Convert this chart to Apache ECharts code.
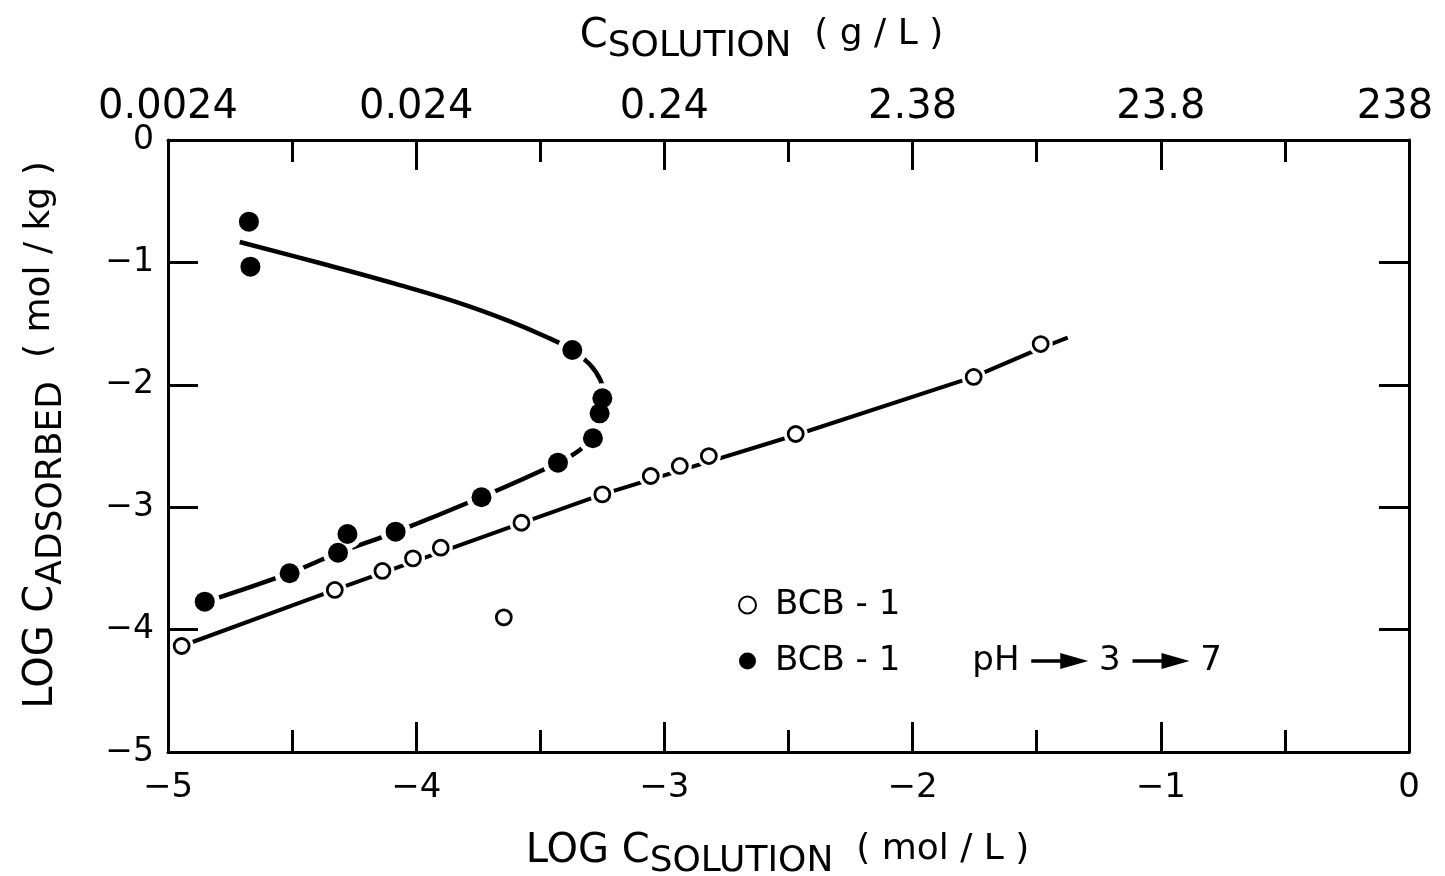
<!DOCTYPE html>
<html>
<head>
<meta charset="utf-8">
<script src="https://cdn.jsdelivr.net/npm/echarts@6/dist/echarts.min.js"></script>
<style>
  html, body { margin: 0; padding: 0; background: #ffffff; }
  #chart { width: 1445px; height: 876px; }
</style>
</head>
<body>
<div id="chart"></div>
<script>
const FONT = 'DejaVu Sans';

// Upper axis: the lower log(mol/L) ticks expressed in g/L
const topTickLabels = ['0.0024', '0.024', '0.24', '2.38', '23.8', '238'];

// BCB-1 (open circles): log C_solution (mol/L), log C_adsorbed (mol/kg)
const bcbX = [-4.945, -4.328, -4.136, -4.013, -3.901, -3.647, -3.576, -3.250, -3.055, -2.938, -2.821, -2.471, -1.754, -1.484];
const bcbY = [-4.134, -3.676, -3.521, -3.418, -3.331, -3.900, -3.127, -2.895, -2.745, -2.663, -2.582, -2.402, -1.936, -1.667];

// BCB-1 with pH stepped 3 -> 7 (filled circles)
const phX = [-4.674, -4.668, -3.371, -3.250, -3.261, -3.288, -3.429, -3.737, -4.083, -4.277, -4.315, -4.510, -4.852];
const phY = [-0.667, -1.035, -1.716, -2.110, -2.233, -2.437, -2.636, -2.919, -3.200, -3.219, -3.372, -3.540, -3.772];

// Drawn trend line through the BCB-1 points
const bcbLineX = [-4.945, -4.328, -3.576, -3.250, -2.471, -1.754, -1.484, -1.375];
const bcbLineY = [-4.134, -3.676, -3.130, -2.895, -2.410, -1.935, -1.700, -1.615];

// Drawn curve through the pH-stepped points (upper branch, turn, lower branch)
const phCurveX = [-4.711, -4.389, -4.066, -3.825, -3.625, -3.484, -3.371, -3.302, -3.258, -3.246, -3.258, -3.285, -3.341, -3.430, -3.736, -4.083, -4.316, -4.510, -4.852];
const phCurveY = [-0.833, -1.005, -1.185, -1.332, -1.479, -1.601, -1.716, -1.830, -1.961, -2.083, -2.230, -2.410, -2.533, -2.639, -2.917, -3.203, -3.374, -3.538, -3.775];

const NAME_OPEN = 'BCB-1';
const NAME_FILLED = 'BCB-1 pH 3 7';

const zip = (xs, ys) => xs.map((x, i) => [x, ys[i]]);
const minus = v => String(v).replace('-', '\u2212');

// Solid arrow (thin shaft, filled head) used between the pH values in the legend
const arrowSvg =
  '<svg xmlns="http://www.w3.org/2000/svg" width="58" height="20" viewBox="0 0 58 20">' +
  '<line x1="1" y1="10" x2="36" y2="10" stroke="#000" stroke-width="3.5"/>' +
  '<polygon points="30,2 58,10 30,18" fill="#000"/></svg>';
const arrowUri = 'data:image/svg+xml;charset=utf-8,' + encodeURIComponent(arrowSvg);

const axisLineStyle = { color: '#000', width: 3 };
const tickStyle = { color: '#000', width: 3 };

// main letters, subscript (dropped) and the unit in parentheses
const nameRich = {
  a: { fontFamily: FONT, fontSize: 40, color: '#000', lineHeight: 40, verticalAlign: 'top' },
  s: { fontFamily: FONT, fontSize: 36, color: '#000', lineHeight: 36, padding: [12, 0, 0, 0], verticalAlign: 'top' },
  p: { fontFamily: FONT, fontSize: 36, color: '#000', lineHeight: 36, verticalAlign: 'top' }
};

const chart = echarts.init(document.getElementById('chart'), null, { renderer: 'canvas' });

chart.setOption({
  animation: false,
  backgroundColor: '#ffffff',
  grid: { left: 168, right: 36, top: 140, bottom: 124, containLabel: false, outerBoundsMode: 'none' },
  legend: {
    orient: 'vertical',
    left: 733,
    top: 580,
    itemGap: 16,
    itemWidth: 17,
    itemHeight: 17,
    data: [NAME_OPEN, NAME_FILLED],
    formatter: name => name === NAME_OPEN
      ? 'BCB - 1'
      : 'BCB - 1{g| }pH {ar| } 3 {ar| } 7',
    textStyle: {
      fontFamily: FONT, fontSize: 34, color: '#000', lineHeight: 40,
      padding: [0, 0, 0, 14],
      rich: {
        g: { width: 72, lineHeight: 40 },
        ar: { width: 58, height: 20, lineHeight: 20, backgroundColor: { image: arrowUri } }
      }
    }
  },
  xAxis: [
    {
      type: 'value', position: 'bottom', min: -5, max: 0, interval: 1, z: 10,
      axisLine: { show: true, onZero: false, lineStyle: axisLineStyle },
      axisTick: { show: true, inside: true, length: 30, lineStyle: tickStyle },
      minorTick: { show: true, splitNumber: 2, length: 22, lineStyle: tickStyle },
      splitLine: { show: false }, minorSplitLine: { show: false },
      axisLabel: { fontFamily: FONT, fontSize: 34, color: '#000', margin: 19, formatter: minus },
      name: '{a|LOG C}{s|SOLUTION}{p|  ( mol / L )}',
      nameLocation: 'middle', nameGap: 80,
      nameTextStyle: { rich: nameRich, padding: [0, 22, 0, 0] }
    },
    {
      type: 'value', position: 'top', min: -5, max: 0, interval: 1, z: 10,
      axisLine: { show: true, onZero: false, lineStyle: axisLineStyle },
      axisTick: { show: true, inside: true, length: 30, lineStyle: tickStyle },
      minorTick: { show: true, splitNumber: 2, length: 22, lineStyle: tickStyle },
      splitLine: { show: false }, minorSplitLine: { show: false },
      axisLabel: {
        fontFamily: FONT, fontSize: 40, color: '#000', margin: 12,
        formatter: v => {
          const i = Math.round(v + 5);
          // the last label sits a little inside the right edge of the frame
          return i === topTickLabels.length - 1 ? '{end|' + topTickLabels[i] + '}' : topTickLabels[i];
        },
        rich: { end: { fontFamily: FONT, fontSize: 40, color: '#000', padding: [0, 28, 0, 0] } }
      },
      name: '{a|C}{s|SOLUTION}{p|  ( g / L )}',
      nameLocation: 'middle', nameGap: 83,
      nameTextStyle: { rich: nameRich, padding: [0, 54, 0, 0] }
    }
  ],
  yAxis: [
    {
      type: 'value', position: 'left', min: -5, max: 0, interval: 1, z: 10,
      axisLine: { show: true, onZero: false, lineStyle: axisLineStyle },
      axisTick: { show: true, inside: true, length: 30, lineStyle: tickStyle },
      splitLine: { show: false },
      axisLabel: { fontFamily: FONT, fontSize: 33, color: '#000', margin: 14, formatter: minus },
      name: '{a|LOG C}{s|ADSORBED}{p|  ( mol / kg )}',
      nameLocation: 'middle', nameRotate: 90, nameGap: 106,
      nameTextStyle: { rich: nameRich, padding: [0, 0, 0, 22] }
    },
    {
      type: 'value', position: 'right', min: -5, max: 0, interval: 1, z: 10,
      axisLine: { show: true, onZero: false, lineStyle: axisLineStyle },
      axisTick: { show: true, inside: true, length: 30, lineStyle: tickStyle },
      splitLine: { show: false },
      axisLabel: { show: false }
    }
  ],
  series: [
    {
      name: 'bcb-trend', type: 'line', z: 2, silent: true,
      data: zip(bcbLineX, bcbLineY), showSymbol: false, symbol: 'none',
      lineStyle: { color: '#000', width: 4 }
    },
    {
      name: 'ph-trend', type: 'line', z: 2, silent: true,
      data: zip(phCurveX, phCurveY), showSymbol: false, symbol: 'none', smooth: 0.4,
      lineStyle: { color: '#000', width: 4.5 }
    },
    // white rings that open a small gap in the drawn lines around each marker
    {
      name: 'bcb-gap', type: 'scatter', z: 3, silent: true,
      data: zip(bcbX, bcbY), symbol: 'circle', symbolSize: 24,
      itemStyle: { color: '#fff', borderWidth: 0, opacity: 1 }
    },
    {
      name: 'ph-gap', type: 'scatter', z: 3, silent: true,
      data: zip(phX, phY), symbol: 'circle', symbolSize: 30,
      itemStyle: { color: '#fff', borderWidth: 0, opacity: 1 }
    },
    {
      name: NAME_OPEN, type: 'scatter', z: 4,
      data: zip(bcbX, bcbY), symbol: 'circle', symbolSize: 15,
      itemStyle: { color: '#fff', borderColor: '#000', borderWidth: 2.8, opacity: 1 }
    },
    {
      name: NAME_FILLED, type: 'scatter', z: 4,
      data: zip(phX, phY), symbol: 'circle', symbolSize: 20,
      itemStyle: { color: '#000', opacity: 1 }
    }
  ]
});
</script>
</body>
</html>
